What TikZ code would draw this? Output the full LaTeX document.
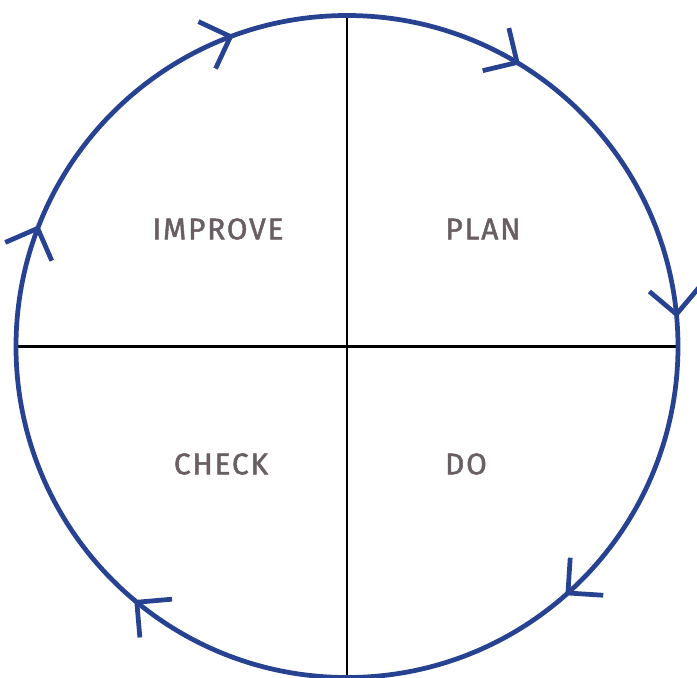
\documentclass[tikz,border=0pt]{standalone}
\usepackage{fontspec}
\newfontfamily\labelfont[FakeBold=1.6,LetterSpace=6]{Fira Sans}
\usetikzlibrary{arrows.meta,decorations.markings}

\definecolor{ringblue}{RGB}{40,66,146}
\definecolor{labelgray}{RGB}{105,94,99}

\tikzset{
  ring/.style={draw=ringblue,line width=2.7pt},
  divider/.style={draw=black,line width=1.3pt},
  stage/.style={text=labelgray,font=\labelfont\fontsize{17}{19}\selectfont},
  ringtip/.tip={Straight Barb[length=5mm,width=10mm]}
}

\begin{document}
\begin{tikzpicture}[x=0.02cm,y=0.02cm]
        \useasboundingbox (-347,-330.5) rectangle (350,346.5);
        \coordinate (c) at (0,0);

        % Dividing lines
        \draw[divider] (c) ++(-331,0) -- ++(662,0);
        \draw[divider] (c) ++(0,331) -- ++(0,-662);

        % Cycle with clockwise arrows
        \draw[ring,decoration={markings,
            mark=at position 0.0139 with {\arrowreversed{ringtip}},
            mark=at position 0.1625 with {\arrowreversed{ringtip}},
            mark=at position 0.3056 with {\arrowreversed{ringtip}},
            mark=at position 0.4403 with {\arrowreversed{ringtip}},
            mark=at position 0.6389 with {\arrowreversed{ringtip}},
            mark=at position 0.8647 with {\arrowreversed{ringtip}}},
          postaction={decorate}] (c) circle[radius=331];

        % Labels
        \node[stage] (improve) at (-129,117.5) {IMPROVE};
        \node[stage] (plan) at (136,117.5) {PLAN};
        \node[stage] (check) at (-126,-117.5) {CHECK};
        \node[stage] (do) at (119,-117.5) {DO};
\end{tikzpicture}
\end{document}
